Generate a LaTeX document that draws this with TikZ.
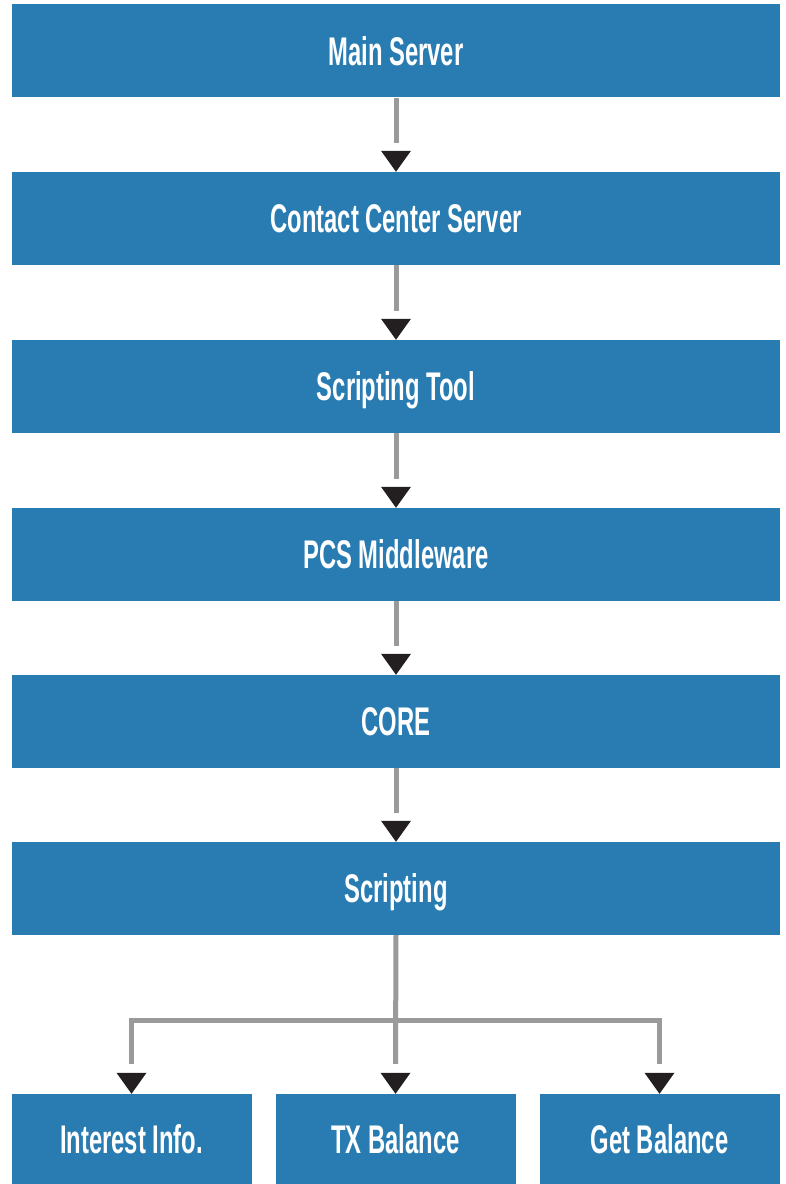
\documentclass[tikz,border=0pt]{standalone}
\usepackage{fontspec}
\newfontfamily\boxfont[FakeStretch=0.595]{Liberation Sans Bold}
\definecolor{boxblue}{HTML}{297CB2}
\definecolor{linegray}{HTML}{9A9A9A}
\definecolor{headblack}{HTML}{231F20}
\tikzset{
  bigbox/.style={rectangle, fill=boxblue, draw=none, inner sep=0pt,
    minimum width=768pt, minimum height=93pt, text=white,
    text height=28.6pt, text depth=0pt,
    font=\boxfont\fontsize{40pt}{46pt}\selectfont},
  smallbox/.style={bigbox, minimum width=240pt, minimum height=90pt},
  conn/.style={draw=linegray, line width=5pt},
  head/.style={fill=headblack, draw=none}
}
\newcommand{\downhead}[1]{\fill[head] (#1.north) -- ++(-15pt,21pt) -- ++(30pt,0pt) -- cycle;}
\begin{document}
\begin{tikzpicture}[x=1pt,y=1pt]
\useasboundingbox (0,0) rectangle (786,1184);
\node[bigbox] (ms)  at (396,1133)   {Main Server};
\node[bigbox] (ccs) at (396,965.5)  {Contact Center Server};
\node[bigbox] (st)  at (396,797.5)  {Scripting Tool};
\node[bigbox] (pcs) at (396,629.5)  {PCS Middleware};
\node[bigbox] (core) at (396,462.5) {CORE};
\node[bigbox] (scr) at (396,295.5)  {Scripting};
\node[smallbox] (ii) at (131.5,45)  {Interest Info.};
\node[smallbox] (tx) at (395.5,45)  {TX Balance};
\node[smallbox] (gb) at (659.5,45)  {Get Balance};

\foreach \a/\b in {ms/ccs, ccs/st, st/pcs, pcs/core, core/scr}{
  \draw[conn] (\a.south) -- ([yshift=29pt]\b.north);
  \downhead{\b}
}

\coordinate (j) at ([yshift=-85pt]scr.south);
\draw[conn] (scr.south) -- ([yshift=30pt]tx.north);
\draw[conn, line join=miter] ([yshift=30pt]ii.north) -- (j -| ii.north) -- (j -| gb.north) -- ([yshift=30pt]gb.north);
\downhead{ii}
\downhead{tx}
\downhead{gb}
\end{tikzpicture}
\end{document}
